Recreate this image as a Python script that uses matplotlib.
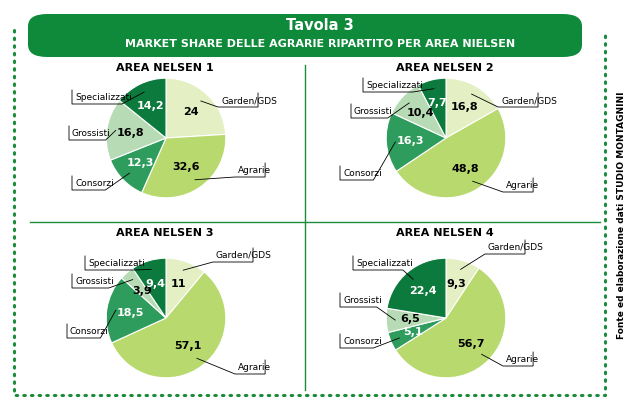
import numpy as np
import matplotlib.pyplot as plt
from matplotlib.patches import FancyBboxPatch
from matplotlib.lines import Line2D

W, H = 640, 408
names = ["Garden/GDS", "Agrarie", "Consorzi", "Grossisti", "Specializzati"]
colors = ["#e4f0c4", "#b8d96e", "#2e9c5c", "#b7dbb5", "#0b7a3c"]
txtcol = ["black", "black", "white", "black", "white"]

areas = {
    "AREA NELSEN 1": dict(vals=[24, 32.6, 12.3, 16.8, 14.2], c=(166, 138), r=61,
                          lab={"Garden/GDS": (221, 105, "r"), "Agrarie": (238, 175, "r"),
                               "Consorzi": (75, 188, "l"), "Grossisti": (72, 138, "l"),
                               "Specializzati": (75, 102, "l")}),
    "AREA NELSEN 2": dict(vals=[16.8, 48.8, 16.3, 10.4, 7.7], c=(446, 138), r=61,
                          lab={"Garden/GDS": (501, 105, "r"), "Agrarie": (506, 190, "r"),
                               "Consorzi": (343, 178, "l"), "Grossisti": (354, 116, "l"),
                               "Specializzati": (366, 90, "l")}),
    "AREA NELSEN 3": dict(vals=[11, 57.1, 18.5, 3.9, 9.4], c=(166, 318), r=61,
                          lab={"Garden/GDS": (216, 260, "r"), "Agrarie": (238, 372, "r"),
                               "Consorzi": (70, 336, "l"), "Grossisti": (75, 286, "l"),
                               "Specializzati": (88, 268, "l")}),
    "AREA NELSEN 4": dict(vals=[9.3, 56.7, 5.1, 6.5, 22.4], c=(446, 318), r=61,
                          lab={"Garden/GDS": (488, 252, "r"), "Agrarie": (506, 364, "r"),
                               "Consorzi": (343, 346, "l"), "Grossisti": (343, 305, "l"),
                               "Specializzati": (356, 268, "l")}),
}
titles_pos = {"AREA NELSEN 1": (165, 68), "AREA NELSEN 2": (445, 68),
              "AREA NELSEN 3": (165, 233), "AREA NELSEN 4": (445, 233)}


def fx(x):
    return x / W


def fy(y):
    return 1 - y / H


fig = plt.figure(figsize=(6.4, 4.08), dpi=100)
fig.patch.set_facecolor("white")

# dotted frame
fig.add_artist(Line2D([fx(14), fx(14), fx(605), fx(605)], [fy(30), fy(395), fy(395), fy(30)],
                      color="#1a8c3a", lw=2.2, ls=(0, (0.5, 2)), dash_capstyle="round"))
# banner
fig.add_artist(FancyBboxPatch((fx(28), fy(57)), fx(582) - fx(28), fy(14) - fy(57),
                              boxstyle="round,pad=0,rounding_size=0.03",
                              fc="#0e8a3a", ec="none", transform=fig.transFigure))
fig.text(0.5, fy(25), "Tavola 3", color="white", fontsize=10.5, fontweight="bold", ha="center", va="center")
fig.text(0.5, fy(44), "MARKET SHARE DELLE AGRARIE RIPARTITO PER AREA NIELSEN", color="white",
         fontsize=8, fontweight="bold", ha="center", va="center", family="Liberation Sans Narrow")
# dividers
fig.add_artist(Line2D([fx(305), fx(305)], [fy(65), fy(390)], color="#1a8c3a", lw=1))
fig.add_artist(Line2D([fx(30), fx(600)], [fy(222), fy(222)], color="#1a8c3a", lw=1))
fig.text(fx(622), fy(215), "Fonte ed elaborazione dati STUDIO MONTAGNINI", rotation=90,
         fontsize=6.5, ha="center", va="center", family="Liberation Sans Narrow", fontweight="bold")

for name, a in areas.items():
    cx, cy, r = a["c"][0], a["c"][1], a["r"]
    ax = fig.add_axes([fx(cx - r), fy(cy + r), 2 * r / W, 2 * r / H])
    wedges, texts = ax.pie(a["vals"], colors=colors, startangle=90, counterclock=False,
                           labels=[str(v).replace(".", ",") for v in a["vals"]],
                           labeldistance=0.6, wedgeprops=dict(edgecolor="white", lw=0.8))
    for t, c in zip(texts, txtcol):
        t.set_color(c)
        t.set_fontweight("bold")
        t.set_fontsize(8)
        t.set_ha("center")
        t.set_va("center")
    ax.set_xlim(-1.02, 1.02)
    ax.set_ylim(-1.02, 1.02)
    tx, ty = titles_pos[name]
    fig.text(fx(tx), fy(ty), name, fontsize=8, fontweight="bold", ha="center", va="center")

    inv = fig.transFigure.inverted()
    for w, nm in zip(wedges, names):
        lx, ly, side = a["lab"][nm]
        mid = np.deg2rad((w.theta1 + w.theta2) / 2)
        ex, ey = inv.transform(ax.transData.transform((0.85 * np.cos(mid), 0.85 * np.sin(mid))))
        fig.text(fx(lx), fy(ly), nm, fontsize=6.5, ha="left", va="bottom",
                 family="Liberation Sans Narrow")
        tw = 3.3 * len(nm) + 4
        if side == "l":
            x0, x1 = fx(lx - 3), fx(lx + tw)
        else:
            x0, x1 = fx(lx + tw), fx(lx - 3)
        fig.add_artist(Line2D([x0, x0, x1, ex], [fy(ly - 12), fy(ly + 2), fy(ly + 2), ey],
                              color="black", lw=0.6))

fig.savefig("out.png", dpi=100)
